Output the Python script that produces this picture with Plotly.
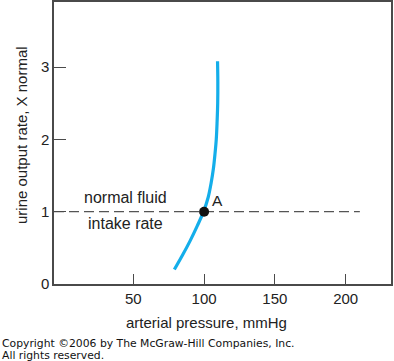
import plotly.graph_objects as go

# Data
curve_pressure = [79, 84.8, 90.2, 95.1, 99.6, 102.9, 105.0, 106.6, 107.7, 108.6, 109.2, 109.6, 109.7, 109.5]
curve_output = [0.2, 0.4, 0.6, 0.8, 1.0, 1.2, 1.4, 1.6, 1.8, 2.0, 2.25, 2.5, 2.8, 3.08]
intake_x = [-6, 210]
intake_y = [1, 1]
point_a_x = [100]
point_a_y = [1]
x_ticks = [50, 100, 150, 200]
y_ticks = [0, 1, 2, 3]

W, H = 394, 361
L, R, T, B = 54, 3, 2, 77
pw, ph = W - L - R, H - T - B

def px_x(p):
    return (p - L) / pw

def px_y(p):
    return (H - B - p) / ph

font = "Liberation Sans, Arial, Helvetica, sans-serif"
axis_col = "#4a4a4a"

fig = go.Figure()
fig.add_trace(go.Scatter(x=intake_x, y=intake_y, mode="lines",
                         line=dict(color="#555555", width=1.2, dash="10px,5px"),
                         hoverinfo="skip", showlegend=False))
fig.add_trace(go.Scatter(x=curve_pressure, y=curve_output, mode="lines",
                         line=dict(color="#14aeea", width=3.2, shape="spline", smoothing=1.0),
                         showlegend=False))
fig.add_trace(go.Scatter(x=point_a_x, y=point_a_y, mode="markers",
                         marker=dict(color="#111111", size=10),
                         showlegend=False))

ann = [
    dict(text="normal fluid", x=44.4, y=1.2, xref="x", yref="y", showarrow=False,
         xanchor="center", yanchor="middle", font=dict(size=16, color="#222")),
    dict(text="intake rate", x=44.4, y=0.84, xref="x", yref="y", showarrow=False,
         xanchor="center", yanchor="middle", font=dict(size=16, color="#222")),
    dict(text="A", x=109.5, y=1.15, xref="x", yref="y", showarrow=False,
         xanchor="center", yanchor="middle", font=dict(size=15.5, color="#222")),
    dict(text="arterial pressure, mmHg", x=px_x(206), y=px_y(322), xref="paper", yref="paper",
         xanchor="center", yanchor="middle", showarrow=False, font=dict(size=15, color="#222")),
    dict(text="urine output rate, X normal", x=px_x(21), y=px_y(135), xref="paper", yref="paper",
         xanchor="center", yanchor="middle", showarrow=False, textangle=-90,
         font=dict(size=15, color="#222")),
    dict(text="Copyright \u00a92006 by The McGraw-Hill Companies, Inc.", x=px_x(0), y=px_y(343),
         xref="paper", yref="paper", xanchor="left", yanchor="middle", showarrow=False,
         font=dict(size=10.8, color="#111", family="DejaVu Sans")),
    dict(text="All rights reserved.", x=px_x(0), y=px_y(355),
         xref="paper", yref="paper", xanchor="left", yanchor="middle", showarrow=False,
         font=dict(size=10.8, color="#111", family="DejaVu Sans")),
]

fig.update_layout(
    width=W, height=H,
    margin=dict(l=L, r=R, t=T, b=B, autoexpand=False),
    paper_bgcolor="white", plot_bgcolor="white",
    font=dict(family=font, size=15, color="#222"),
    annotations=ann,
    xaxis=dict(range=[-6, 232], tickvals=x_ticks, ticks="inside", ticklen=10,
               tickcolor=axis_col, tickwidth=1.3, showgrid=False, zeroline=False,
               showline=True, linecolor=axis_col, linewidth=1.5, mirror=True,
               tickfont=dict(size=15), automargin=False),
    yaxis=dict(range=[0, 3.9], tickvals=y_ticks, ticks="inside", ticklen=12,
               tickcolor=axis_col, tickwidth=1.3, showgrid=False, zeroline=False,
               showline=True, linecolor=axis_col, linewidth=1.5, mirror=True,
               tickfont=dict(size=15), automargin=False),
)

fig.write_html("out.html", config={"displayModeBar": False},
               post_script="document.body.style.margin='0';document.body.style.overflow='hidden';")
